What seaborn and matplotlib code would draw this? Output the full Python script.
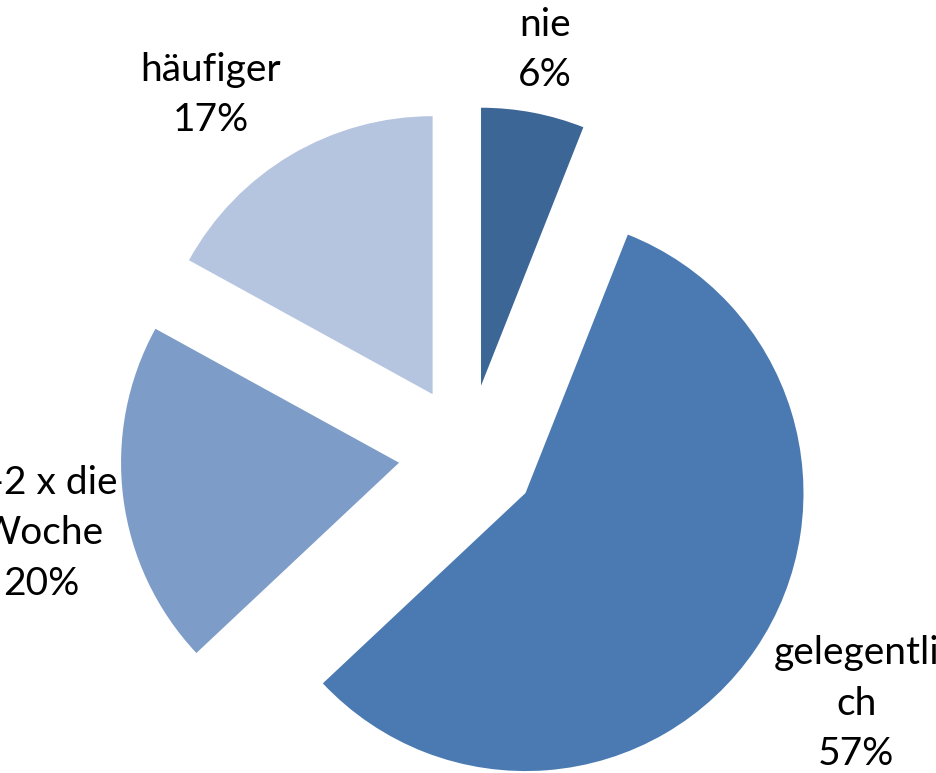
import numpy as np
import matplotlib
matplotlib.use("Agg")
import matplotlib.pyplot as plt
import seaborn as sns

# answer categories and shares (%)
categories = ["nie", "gelegentlich", "1-2 x die Woche", "häufiger"]
label_texts = ["nie\n6%", "gelegentli\nch\n57%", "1-2 x die\nWoche\n20%", "häufiger\n17%"]
shares = [6, 57, 20, 17]
colors = ["#3B6696", "#4A7AB1", "#7E9CC8", "#B5C4DF"]

sns.set_style("white")
plt.rcParams["font.family"] = ["Lato", "DejaVu Sans"]

fig = plt.figure(figsize=(9.36, 7.73), dpi=100)
ax = fig.add_axes([0, 0, 1, 1])

explode = [0.25] * len(shares)
wedges, texts = ax.pie(shares, labels=label_texts, colors=colors, explode=explode,
                       startangle=90, counterclock=False, radius=1.0,
                       labeldistance=1.3, wedgeprops=dict(linewidth=0))

# label placement: distance from wedge centre and angular nudge (deg, clockwise)
label_dist = [1.23, 1.41, 1.31, 1.34]
label_turn = [0.0, -1.7, -4.0, -6.0]
for w, t, d, turn in zip(wedges, texts, label_dist, label_turn):
    ang = np.deg2rad((w.theta1 + w.theta2) / 2 + turn * -1)
    ang = np.deg2rad((w.theta1 + w.theta2) / 2) + np.deg2rad(-turn)
    cx, cy = w.center
    t.set_position((cx + d * np.cos(ang), cy + d * np.sin(ang)))
    t.set_ha("center")
    t.set_va("center")
    t.set_fontsize(28)
    t.set_linespacing(1.5)
    t.set_color("black")

ax.set_xlim(-468 / 278, 468 / 278)
ax.set_ylim(-319 / 278, 454 / 278)
ax.set_aspect("equal")
ax.axis("off")

fig.savefig("out.png", dpi=100)
